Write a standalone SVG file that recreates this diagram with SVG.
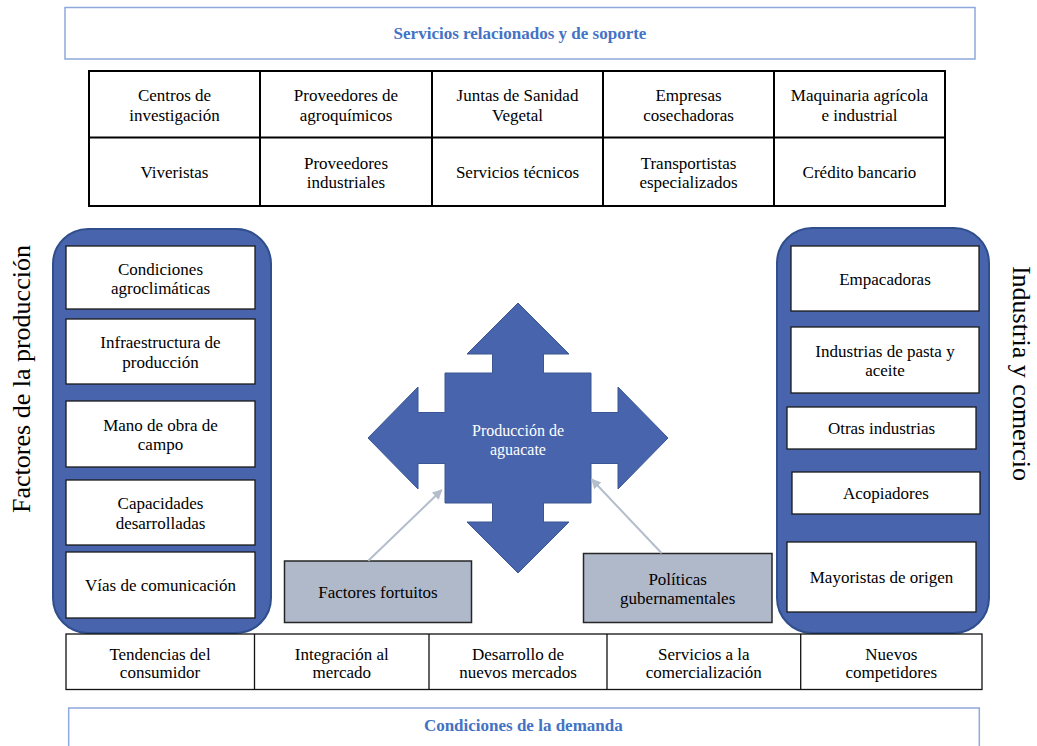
<svg xmlns="http://www.w3.org/2000/svg" width="1037" height="746" viewBox="0 0 1037 746">
<defs>
<style>
text{font-family:"Liberation Serif","Times New Roman",serif;fill:#000;text-anchor:middle}
.t{font-size:17px}
.hd{font-size:17px;font-weight:bold;fill:#4472C4}
.vt{font-size:26px}
.wt{font-size:16px;fill:#fff}
.hbox{fill:#fff;stroke:#8EA9DB;stroke-width:1.5}
.tbl{fill:none;stroke:#000;stroke-width:2}
.tbl2{fill:none;stroke:#111;stroke-width:1.3}
.panel{fill:#4864AC;stroke:#2F4E8C;stroke-width:2}
.wbox{fill:#fff;stroke:#1a1a1a;stroke-width:1.3}
.gbox{fill:#B0B9CA;stroke:#262626;stroke-width:1.5}
.conn{fill:none;stroke:#B4BDCC;stroke-width:2}
</style>
<marker id="ah" viewBox="0 0 10 10" refX="9" refY="5" markerWidth="5" markerHeight="5" orient="auto" markerUnits="strokeWidth">
<path d="M0,0 L10,5 L0,10 z" fill="#B4BDCC"/>
</marker>
</defs>
<rect width="1037" height="746" fill="#fff"/>

<g id="servicios">
<rect class="hbox" x="65" y="7.5" width="910" height="51.5"/>
<text class="hd" x="520" y="39">Servicios relacionados y de soporte</text>
</g>

<g id="tabla-servicios">
<rect class="tbl" x="89" y="71" width="856" height="135"/>
<path class="tbl" d="M89,137.5H945M260,71V206M432,71V206M603,71V206M774,71V206"/>
<text class="t" x="174.5" y="101">Centros de</text><text class="t" x="174.5" y="120.5">investigación</text>
<text class="t" x="346" y="101">Proveedores de</text><text class="t" x="346" y="120.5">agroquímicos</text>
<text class="t" x="517.5" y="101">Juntas de Sanidad</text><text class="t" x="517.5" y="120.5">Vegetal</text>
<text class="t" x="688.5" y="101">Empresas</text><text class="t" x="688.5" y="120.5">cosechadoras</text>
<text class="t" x="859.5" y="101">Maquinaria agrícola</text><text class="t" x="859.5" y="120.5">e industrial</text>
<text class="t" x="174.5" y="178">Viveristas</text>
<text class="t" x="346" y="168.5">Proveedores</text><text class="t" x="346" y="188">industriales</text>
<text class="t" x="517.5" y="178">Servicios técnicos</text>
<text class="t" x="688.5" y="168.5">Transportistas</text><text class="t" x="688.5" y="188">especializados</text>
<text class="t" x="859.5" y="178">Crédito bancario</text>
</g>

<g id="factores-produccion">
<rect class="panel" x="53" y="229" width="218" height="404" rx="35" ry="35"/>
<text class="vt" transform="translate(30,379) rotate(-90)">Factores de la producción</text>
<rect class="wbox" x="66" y="246" width="189" height="63"/>
<text class="t" x="160.5" y="274.5">Condiciones</text><text class="t" x="160.5" y="294">agroclimáticas</text>
<rect class="wbox" x="66" y="319" width="189" height="65"/>
<text class="t" x="160.5" y="348">Infraestructura de</text><text class="t" x="160.5" y="367.5">producción</text>
<rect class="wbox" x="66" y="401" width="189" height="66"/>
<text class="t" x="160.5" y="430.5">Mano de obra de</text><text class="t" x="160.5" y="450">campo</text>
<rect class="wbox" x="66" y="480" width="189" height="65"/>
<text class="t" x="160.5" y="509">Capacidades</text><text class="t" x="160.5" y="528.5">desarrolladas</text>
<rect class="wbox" x="66" y="552" width="189" height="66"/>
<text class="t" x="160.5" y="591">Vías de comunicación</text>
</g>

<g id="industria-comercio">
<rect class="panel" x="777" y="228" width="212" height="405" rx="35" ry="35"/>
<text class="vt" transform="translate(1013,373.5) rotate(90)">Industria y comercio</text>
<rect class="wbox" x="791" y="246" width="188" height="65"/>
<text class="t" x="885" y="284.5">Empacadoras</text>
<rect class="wbox" x="791" y="327" width="188" height="66"/>
<text class="t" x="885" y="356.5">Industrias de pasta y</text><text class="t" x="885" y="376">aceite</text>
<rect class="wbox" x="787" y="407" width="189" height="42"/>
<text class="t" x="881.5" y="434">Otras industrias</text>
<rect class="wbox" x="792" y="472" width="188" height="42"/>
<text class="t" x="886" y="499">Acopiadores</text>
<rect class="wbox" x="787" y="542" width="189" height="70"/>
<text class="t" x="881.5" y="583">Mayoristas de origen</text>
</g>

<g id="produccion-aguacate">
<polygon fill="#4864AC" stroke="#3A5794" stroke-width="1" points="518,303 569,354 543.5,354 543.5,373 591,373 591,412.5 618,412.5 618,387 668,438 618,489 618,463.5 591,463.5 591,503 543.5,503 543.5,522 569,522 518,573 467,522 492.5,522 492.5,503 445,503 445,463.5 418,463.5 418,489 368,438 418,387 418,412.5 445,412.5 445,373 492.5,373 492.5,354 467,354"/>
<text class="wt" x="518" y="435.5">Producción de</text>
<text class="wt" x="518" y="455">aguacate</text>
</g>

<g id="factores-fortuitos">
<rect class="gbox" x="284.5" y="561" width="187" height="61.5"/>
<text class="t" x="378" y="597.5">Factores fortuitos</text>
</g>

<g id="politicas">
<rect class="gbox" x="583.5" y="553.5" width="188.5" height="69"/>
<text class="t" x="677.7" y="585">Políticas</text>
<text class="t" x="677.7" y="604">gubernamentales</text>
</g>

<g id="connectors">
<line class="conn" x1="368.3" y1="560.7" x2="441.7" y2="490" marker-end="url(#ah)"/>
<line class="conn" x1="661.7" y1="553.3" x2="591.7" y2="479.3" marker-end="url(#ah)"/>
</g>

<g id="tabla-demanda">
<rect class="tbl2" x="66" y="634" width="916" height="55.5"/>
<path class="tbl2" d="M254.5,634V689.5M429,634V689.5M607,634V689.5M800.7,634V689.5"/>
<text class="t" x="160" y="660">Tendencias del</text><text class="t" x="160" y="678">consumidor</text>
<text class="t" x="341.8" y="660">Integración al</text><text class="t" x="341.8" y="678">mercado</text>
<text class="t" x="518" y="660">Desarrollo de</text><text class="t" x="518" y="678">nuevos mercados</text>
<text class="t" x="703.8" y="660">Servicios a la</text><text class="t" x="703.8" y="678">comercialización</text>
<text class="t" x="891.3" y="660">Nuevos</text><text class="t" x="891.3" y="678">competidores</text>
</g>

<g id="condiciones-demanda">
<rect class="hbox" x="68.7" y="708" width="910.6" height="60"/>
<text class="hd" x="523.3" y="731">Condiciones de la demanda</text>
</g>
</svg>
